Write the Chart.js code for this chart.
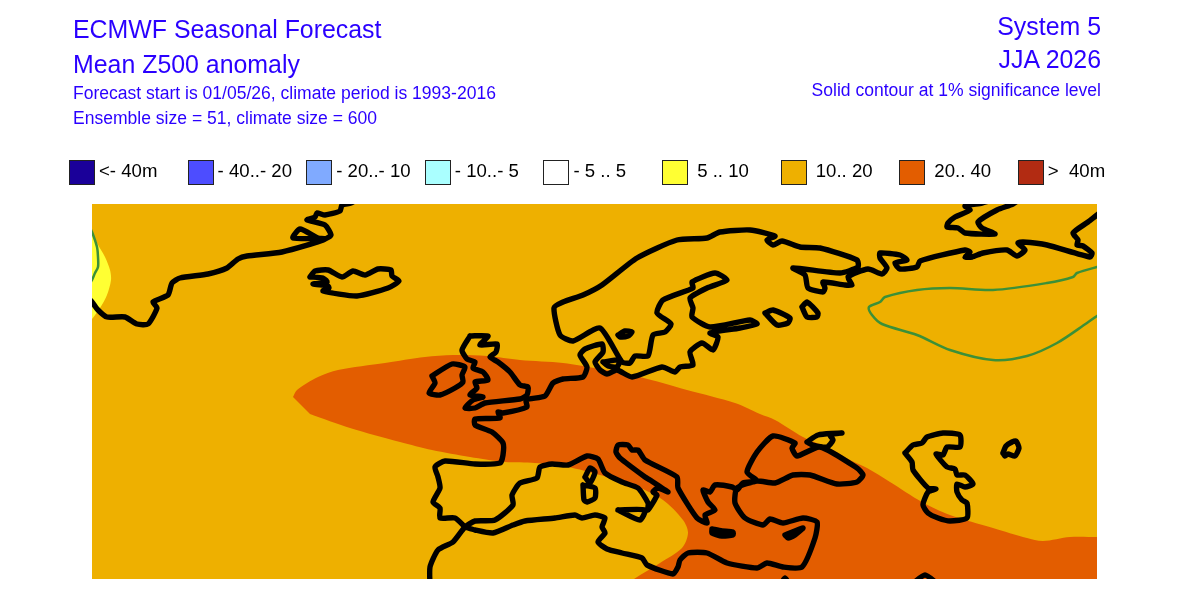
<!DOCTYPE html>
<html>
<head>
<meta charset="utf-8">
<title>Mean Z500 anomaly</title>
<script src="https://cdn.jsdelivr.net/npm/chart.js@4"></script>
<style>
  html, body { margin: 0; background: #fff; }
  #page { position: relative; width: 1201px; height: 599px; overflow: hidden; font-family: "Liberation Sans", sans-serif; }
  #map { position: absolute; left: 0; top: 0; }
  .t { position: absolute; white-space: pre; color: #2a00ff; line-height: 1; }
  .r { text-align: right; right: 100px; }
  .big { font-size: 24.9px; }
  .small { font-size: 17.55px; }
  .box { position: absolute; top: 160px; width: 24px; height: 23px; border: 1px solid #222; }
  .lab { position: absolute; top: 162px; white-space: pre; font-size: 18.6px; line-height: 1; color: #000; }
</style>
</head>
<body>
<div id="page">
  <canvas id="map" width="1201" height="599"></canvas>
  <div class="t big" style="left:73px;top:17px">ECMWF Seasonal Forecast</div>
  <div class="t big" style="left:73px;top:52px">Mean Z500 anomaly</div>
  <div class="t small" style="left:73px;top:85px">Forecast start is 01/05/26, climate period is 1993-2016</div>
  <div class="t small" style="left:73px;top:110px">Ensemble size = 51, climate size = 600</div>
  <div class="t big r" style="top:14px">System 5</div>
  <div class="t big r" style="top:47px">JJA 2026</div>
  <div class="t small r" style="top:82px">Solid contour at 1% significance level</div>
</div>
<script>
// legend classes
const legendLabels = ['<- 40m', '- 40..- 20', '- 20..- 10', '- 10..- 5', '- 5 .. 5', ' 5 .. 10', ' 10.. 20', ' 20.. 40', '>  40m'];
const legendColors = ['#1a0099', '#4d4dff', '#80aaff', '#aaffff', '#ffffff', '#ffff33', '#eeb000', '#e35d00', '#b22b12'];

// map grid extent
const gridX = [92, 1097];
const gridY = [204, 579];

// shaded anomaly areas as [x, y] grid points
const band10to20 = [[70,190],[1120,190],[1120,600],[70,600]];
const band5to10 = [[84,220],[92,232],[97,243],[105,257],[110,270],[111,280],[107,295],[100,308],[92,319],[84,328]];
const band20to40 = [[293,397],[297,390],[318,377],[338,370],[385,363],[425,357],[453,355],[487,356],[520,360],[563,363],[600,369],[640,377],[687,390],[735,403],[760,414],[775,420],[803,437],[833,450],[850,460],[867,468],[890,482],[922,502],[950,515],[993,528],[1027,538],[1043,541],[1070,537],[1097,537],[1120,537],[1120,600],[604,600],[634,579],[660,563],[682,548],[688,533],[683,520],[663,500],[633,485],[600,475],[568,467],[535,463],[505,462],[470,457],[432,450],[400,442],[350,428],[310,414]];

// significance contours
const contourWest = [[88,224],[92,232],[97,247],[98,257],[98,267],[95,273],[92,280],[88,286]];
const contourEast = [[1106,265],[1097,267],[1077,273],[1073,277],[1047,283],[993,290],[950,288],[917,290],[885,297],[880,302],[869,307],[872,315],[882,324],[917,335],[950,350],[993,360],[1027,356],[1057,343],[1087,323],[1097,316],[1106,311]];

// coastlines
const coastGreenland = [[86,296],[92,302],[98,310],[107,317],[125,317],[137,324],[148,324],[157,308],[153,302],[168,295],[172,283],[180,278],[208,274],[227,268],[238,259],[247,256],[282,252],[325,239],[293,238],[300,229],[318,238],[325,239],[331,235],[325,225],[307,220],[315,217],[317,213],[325,215],[340,211],[342,205],[351,203],[358,199]];
const coastIceland = [[310,277],[315,271],[328,270],[342,277],[353,271],[365,275],[378,269],[391,270],[392,276],[399,281],[388,288],[357,296],[323,291],[329,288],[328,286],[313,284],[327,282],[323,278],[310,277]];
const coastIreland = [[432,376],[452,364],[465,367],[462,375],[463,382],[455,388],[440,395],[429,393],[435,383],[432,376]];
const coastBritain = [[470,336],[488,336],[480,345],[497,344],[496,352],[490,357],[498,362],[510,372],[520,385],[528,387],[527,395],[520,399],[485,403],[475,408],[465,408],[473,400],[483,397],[470,395],[477,388],[475,382],[488,380],[483,372],[473,368],[475,362],[467,359],[462,350],[470,336]];
const coastEurope = [[465,527],[455,518],[440,518],[440,508],[433,502],[440,488],[438,477],[435,467],[445,461],[475,464],[500,463],[503,455],[503,443],[492,432],[475,425],[475,419],[500,418],[498,412],[503,413],[527,407],[526,400],[545,396],[553,383],[563,379],[583,377],[587,367],[580,355],[585,349],[602,344],[603,352],[595,362],[600,370],[607,374],[617,370],[632,377],[662,367],[675,372],[680,367],[693,365],[690,352],[702,343],[713,350],[718,337],[710,333],[740,328],[757,324],[750,320],[710,327],[692,317],[693,308],[690,298],[707,288],[727,280],[715,273],[692,282],[693,288],[663,300],[657,313],[671,324],[665,332],[653,335],[648,356],[635,356],[630,363],[622,362],[600,328],[573,341],[560,335],[554,308],[563,302],[583,295],[602,285],[637,258],[677,240],[707,238],[720,232],[750,230],[775,236],[767,240],[773,245],[782,241],[800,247],[820,248],[857,260],[858,267],[840,273],[793,268],[805,275],[808,288],[823,292],[825,288],[823,282],[845,285],[852,285],[848,277],[868,269],[882,274],[887,268],[880,258],[880,253],[900,255],[907,260],[895,263],[900,269],[917,267],[920,261],[965,250],[970,252],[965,257],[972,257],[983,253],[1007,250],[1017,256],[1025,250],[1018,243],[1023,242],[1047,245],[1090,257],[1092,253],[1083,246],[1077,245],[1078,240],[1073,233],[1088,222],[1097,215],[1105,209]];
const coastNovaya = [[1020,199],[1013,204],[997,210],[978,222],[982,228],[995,234],[965,233],[958,228],[947,227],[948,223],[955,217],[970,210],[965,206],[982,203],[992,200]];
const coastMed = [[430,586],[430,567],[438,550],[453,542],[465,527],[475,521],[495,520],[513,505],[512,495],[520,483],[537,478],[540,467],[552,464],[568,465],[587,456],[598,459],[605,473],[622,482],[638,488],[648,503],[648,510],[657,495],[653,492],[658,488],[668,492],[650,480],[645,477],[620,458],[616,452],[618,445],[628,445],[632,450],[638,450],[645,460],[677,477],[678,488],[697,518],[707,523],[705,515],[715,510],[708,502],[703,490],[710,492],[715,485],[732,487],[737,490],[743,483],[757,481],[747,472],[757,452],[773,436],[795,443],[792,448],[797,456],[820,447],[857,468],[863,475],[857,482],[837,484],[810,475],[793,475],[775,483],[757,481],[737,488],[735,503],[745,518],[763,525],[770,519],[783,523],[803,518],[817,522],[815,538],[802,567],[783,567],[767,563],[757,568],[727,563],[707,553],[688,553],[680,560],[678,567],[673,574],[647,565],[642,558],[622,553],[607,549],[598,542],[605,533],[602,527],[605,518],[595,515],[582,518],[575,515],[555,518],[525,521],[513,525],[493,533],[475,530],[465,527]];
const coastAzov = [[807,442],[818,435],[842,433],[830,435],[833,440],[827,447],[813,445],[807,442]];
const coastCaspian = [[905,453],[913,445],[922,443],[927,437],[943,433],[960,435],[960,447],[947,447],[943,455],[936,454],[947,467],[955,469],[957,475],[965,475],[973,484],[965,487],[957,484],[957,492],[962,500],[967,503],[967,518],[950,521],[938,518],[928,513],[923,505],[928,492],[936,489],[928,488],[913,470],[912,462],[905,453]];
const coastAral = [[1003,453],[1006,446],[1012,442],[1016,441],[1019,448],[1015,456],[1008,454],[1005,456],[1003,453]];
const coastGulf = [[910,586],[925,575],[940,586]];
const coastRedSea = [[782,582],[785,578],[788,582]];
const coastZealand = [[603,362],[620,360],[617,367],[608,366],[603,362]];
const coastGotland = [[618,335],[625,331],[632,332],[628,336],[620,337],[618,335]];
const coastLadoga = [[765,313],[773,310],[790,318],[788,323],[777,325],[765,313]];
const coastOnega = [[802,307],[807,302],[818,313],[817,317],[807,317],[802,307]];
const coastCorsica = [[585,477],[590,468],[595,472],[590,483],[585,477]];
const coastSardinia = [[583,485],[595,488],[595,498],[587,502],[584,500],[583,485]];
const coastSicily = [[618,510],[645,510],[640,520],[618,510]];
const coastCrete = [[712,529],[722,531],[733,532],[733,535],[722,536],[712,533],[712,529]];
const coastCyprus = [[785,535],[803,528],[795,535],[788,538],[785,535]];

const coastlines = [coastGreenland, coastIceland, coastIreland, coastBritain, coastEurope, coastNovaya, coastMed, coastAzov, coastCaspian, coastAral, coastGulf, coastRedSea, coastZealand, coastGotland, coastLadoga, coastOnega, coastCorsica, coastSardinia, coastSicily, coastCrete, coastCyprus];

const toPoints = arr => arr.map(p => ({ x: p[0], y: p[1] }));

function area(points, color, order, tension) {
  return { data: toPoints(points), showLine: true, fill: 'shape', backgroundColor: color, borderWidth: 0, pointRadius: 0, tension: tension, clip: 0, order: order };
}
function contour(points) {
  return { data: toPoints(points), showLine: true, fill: false, borderColor: '#3c9038', borderWidth: 2.5, pointRadius: 0, tension: 0.3, clip: 0, order: 2 };
}
function coast(points) {
  return { data: toPoints(points), showLine: true, fill: false, borderColor: '#000', borderWidth: 5.4, borderJoinStyle: 'round', borderCapStyle: 'round', pointRadius: 0, tension: 0.2, clip: 0, order: 1 };
}

const page = document.getElementById('page');
legendLabels.forEach((label, i) => {
  const left = 69 + i * 118.6;
  const box = document.createElement('div');
  box.className = 'box';
  box.style.left = left + 'px';
  box.style.background = legendColors[i];
  page.appendChild(box);
  const text = document.createElement('div');
  text.className = 'lab';
  text.style.left = (left + 30) + 'px';
  text.textContent = label;
  page.appendChild(text);
});

new Chart(document.getElementById('map'), {
  type: 'scatter',
  data: {
    datasets: [
      area(band10to20, '#eeb000', 6, 0),
      area(band5to10, '#ffff33', 5, 0.3),
      area(band20to40, '#e35d00', 4, 0.3),
      contour(contourWest),
      contour(contourEast),
      ...coastlines.map(coast),
    ]
  },
  options: {
    responsive: false,
    animation: false,
    events: [],
    layout: { padding: { left: 92, right: 104, top: 204, bottom: 20 } },
    plugins: { legend: { display: false }, tooltip: { enabled: false } },
    scales: {
      x: { type: 'linear', display: false, min: gridX[0], max: gridX[1] },
      y: { type: 'linear', display: false, reverse: true, min: gridY[0], max: gridY[1] },
    }
  }
});
</script>
</body>
</html>
